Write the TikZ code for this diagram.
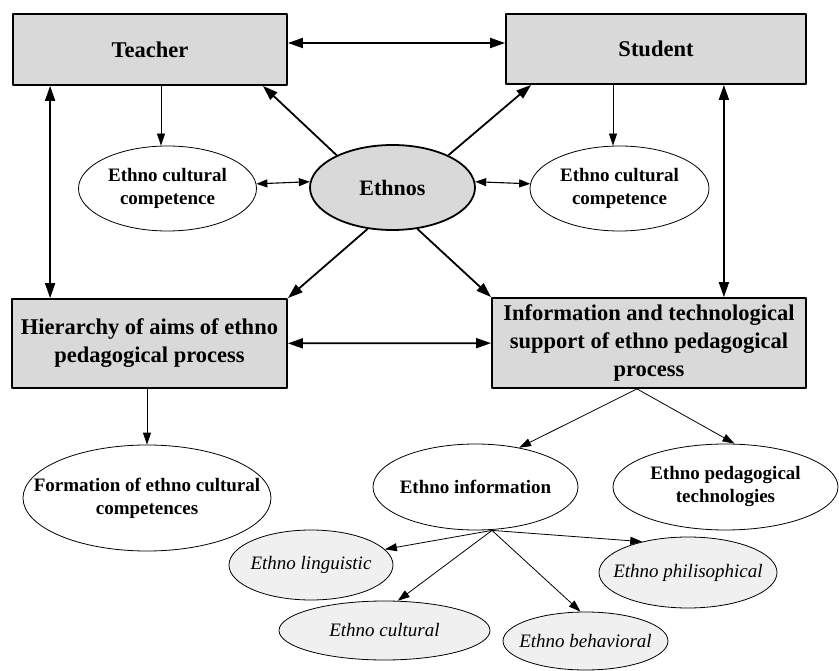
\documentclass[tikz,border=0pt]{standalone}
\usepackage{fontspec}
\setmainfont{Liberation Serif}
\usetikzlibrary{shapes.geometric,arrows.meta}
\begin{document}
\begin{tikzpicture}[x=1pt, y=-1pt, line join=round,
    box/.style={draw, line width=1.8pt, fill=gray!30, inner sep=0pt, align=center, font=\fontsize{22.5}{28}\selectfont\bfseries},
    oval/.style={draw, ellipse, line width=.8pt, inner sep=-30pt, align=center, font=\fontsize{19}{23}\selectfont\bfseries},
    suboval/.style={oval, fill=gray!12, font=\fontsize{19}{23}\selectfont\itshape},
    link/.style={>={Triangle[length=15pt,width=10pt]}, <->, line width=1.8pt},
    spoke/.style={>={Triangle[length=15pt,width=10pt]}, ->, line width=1.8pt},
    near/.style={>={Triangle[length=11pt,width=8pt]}, <->, line width=1.1pt},
    branch/.style={>={Triangle[length=12pt,width=8pt]}, ->, line width=.8pt}]
    \useasboundingbox (0,0) rectangle (839,671);
    % boxes
    \node[box, minimum width=274pt, minimum height=71pt] (teacher) at (150,49.5) {Teacher};
    \node[box, minimum width=300pt, minimum height=70pt] (student) at (656,49) {Student};
    \node[box, minimum width=275pt, minimum height=89pt] (aims) at (149.5,343.5) {Hierarchy of aims of ethno\\pedagogical process};
    \node[box, minimum width=314pt, minimum height=90pt] (support) at (649,343) {Information and technological\\support of ethno pedagogical\\process};
    % ellipses
    \node[oval, fill=gray!30, line width=1.8pt, minimum width=165pt, minimum height=85pt, font=\fontsize{22}{26}\selectfont\bfseries] (ethnos) at (392.5,187.5) {Ethnos};
    \node[oval, minimum width=178pt, minimum height=85pt] (compT) at (167.5,188.5) {Ethno cultural\\competence};
    \node[oval, minimum width=179pt, minimum height=85pt] (compS) at (619.5,188.5) {Ethno cultural\\competence};
    \node[oval, minimum width=248pt, minimum height=106pt] (form) at (147,498) {Formation of ethno cultural\\competences};
    \node[oval, minimum width=205pt, minimum height=86pt] (info) at (475.5,487) {Ethno information};
    \node[oval, minimum width=225pt, minimum height=86pt] (tech) at (725.5,487) {Ethno pedagogical\\technologies};
    \node[suboval, minimum width=164pt, minimum height=70pt] (ling) at (311,565) {Ethno linguistic};
    \node[suboval, minimum width=211pt, minimum height=59pt] (cult) at (384.5,630.5) {Ethno cultural};
    \node[suboval, minimum width=165pt, minimum height=58pt] (behav) at (585.5,641) {Ethno behavioral};
    \node[suboval, minimum width=178pt, minimum height=71pt] (phil) at (688,572.5) {Ethno philisophical};
    % thick connectors
    \draw[link] ([yshift=6.5pt]teacher.east) -- ([yshift=6pt]student.west);
    \draw[link] ([xshift=38pt]teacher.south west) -- ([xshift=39pt]aims.north west);
    \draw[link] ([xshift=-83pt]student.south east) -- ([xshift=-83pt]support.north east);
    \draw[link] (aims) -- (support);
    \draw[spoke] (ethnos.150) -- ([xshift=-25pt]teacher.south east);
    \draw[spoke] (ethnos.30) -- ([xshift=26pt]student.south west);
    \draw[spoke] (ethnos.239) -- (aims.north east);
    \draw[spoke] (ethnos.301) -- (support.north west);
    \draw[near] (compT.3) -- (ethnos.176);
    \draw[near] (ethnos.4) -- (compS.177);
    % thin connectors
    \draw[branch] ([xshift=11pt]teacher.south) -- ([xshift=-6.5pt]compT.north);
    \draw[branch] ([xshift=-43pt]student.south) -- ([xshift=-6.5pt]compS.north);
    \draw[branch] ([xshift=-2.5pt]aims.south) -- (form.north);
    \coordinate (fork) at ([xshift=-12pt]support.south);
    \draw[branch] (fork) -- (info.42);
    \draw[branch] (fork) -- ([xshift=9pt]tech.north);
    \coordinate (root) at ([xshift=16.5pt]info.south);
    \draw[branch] (root) -- (ling.12);
    \draw[branch] (root) -- (cult.66);
    \draw[branch] (root) -- ([xshift=-5pt]behav.north);
    \draw[branch] (root) -- (phil.146);
\end{tikzpicture}
\end{document}
